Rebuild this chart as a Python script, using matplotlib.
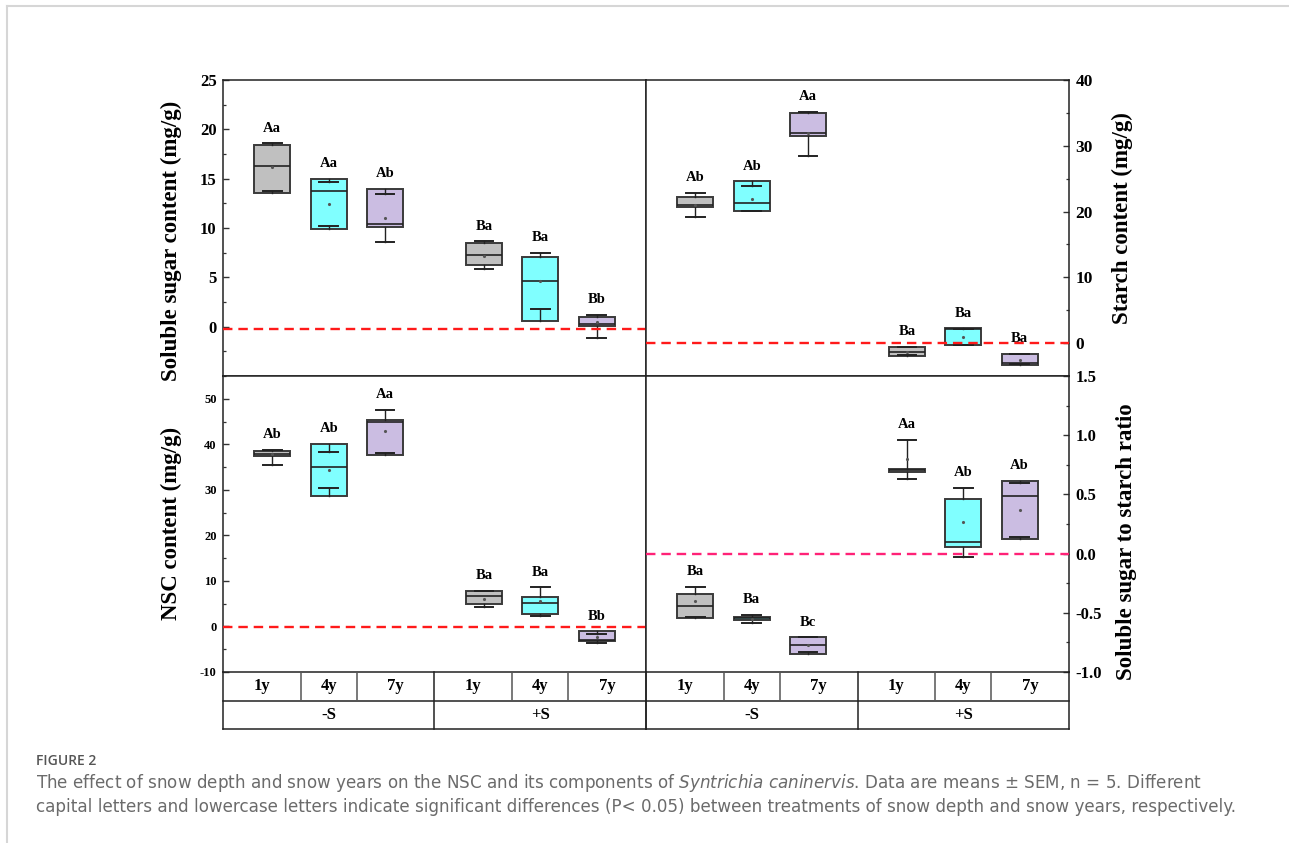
import matplotlib
matplotlib.use("Agg")
import matplotlib.pyplot as plt
from matplotlib.ticker import MultipleLocator

plt.rcParams["font.family"] = ["Liberation Serif", "DejaVu Serif"]
plt.rcParams["axes.unicode_minus"] = False
plt.rcParams["mathtext.fontset"] = "dejavusans"

years = ["1y", "4y", "7y", "1y", "4y", "7y"]
snow = ["-S", "+S"]
fill_colors = ["#c0c0c0", "#80ffff", "#cbbde2"] * 2

# soluble sugar content (mg/g)
sugar_q1 = [13.5, 9.9, 10.07, 6.25, 0.57, 0.07]
sugar_q3 = [18.4, 15.0, 14.0, 8.45, 7.05, 0.95]
sugar_med = [16.3, 13.7, 10.37, 7.3, 4.63, 0.27]
sugar_mean = [16.2, 12.43, 11.0, 7.2, 4.66, 0.5]
sugar_lo = [13.78, 10.2, 8.61, 5.81, 1.79, -1.18]
sugar_hi = [18.58, 14.66, 13.41, 8.65, 7.47, 1.22]
sugar_letters = ["Aa", "Aa", "Ab", "Ba", "Ba", "Bb"]
sugar_ticks = [0, 5, 10, 15, 20, 25]

# starch content (mg/g)
starch_q1 = [20.71, 20.05, 31.52, -2.03, -0.36, -3.3]
starch_q3 = [22.23, 24.57, 35.03, -0.66, 2.23, -1.68]
starch_med = [20.96, 21.37, 31.88, -1.37, 2.08, -3.05]
starch_mean = [21.0, 21.98, 31.9, -1.37, 0.91, -2.54]
starch_lo = [19.14, 20.05, 28.43, -1.88, -0.25, -3.15]
starch_hi = [22.79, 23.86, 35.18, -0.56, 2.18, -1.73]
starch_letters = ["Ab", "Ab", "Aa", "Ba", "Ba", "Ba"]
starch_ticks = [0, 10, 20, 30, 40]

# NSC content (mg/g)
nsc_q1 = [37.4, 28.6, 37.7, 5.0, 2.79, -3.3]
nsc_q3 = [38.6, 40.1, 45.4, 7.8, 6.53, -1.1]
nsc_med = [37.8, 35.1, 45.0, 6.6, 5.21, -2.94]
nsc_mean = [37.9, 34.4, 42.9, 6.0, 5.5, -2.35]
nsc_lo = [35.5, 30.4, 38.2, 4.26, 2.35, -3.6]
nsc_hi = [38.8, 38.4, 47.5, 7.7, 8.59, -1.62]
nsc_letters = ["Ab", "Ab", "Aa", "Ba", "Ba", "Bb"]
nsc_ticks = [-10, 0, 10, 20, 30, 40, 50]

# soluble sugar / starch ratio
ratio_q1 = [-0.544, -0.561, -0.844, 0.686, 0.057, 0.127]
ratio_q3 = [-0.337, -0.533, -0.708, 0.717, 0.459, 0.615]
ratio_med = [-0.445, -0.544, -0.771, 0.703, 0.099, 0.49]
ratio_mean = [-0.40, -0.55, -0.77, 0.796, 0.266, 0.371]
ratio_lo = [-0.533, -0.589, -0.833, 0.629, -0.025, 0.142]
ratio_hi = [-0.278, -0.521, -0.708, 0.958, 0.555, 0.595]
ratio_letters = ["Ba", "Ba", "Bc", "Aa", "Ab", "Ab"]
ratio_ticks = [-1.0, -0.5, 0.0, 0.5, 1.0, 1.5]

positions = [1, 2, 3, 4.75, 5.75, 6.75]
xlim = (0.125, 7.625)

W, H = 1289, 843
fig = plt.figure(figsize=(W / 100, H / 100), dpi=100)


def px_axes(x0, y0, x1, y1):
    return fig.add_axes([x0 / W, 1 - y1 / H, (x1 - x0) / W, (y1 - y0) / H])


def draw_boxes(ax, q1, q3, med, mean, lo, hi, letters):
    stats = []
    for a, b, m, mn, l, h in zip(q1, q3, med, mean, lo, hi):
        stats.append(dict(q1=a, q3=b, med=m, mean=mn, whislo=l, whishi=h, fliers=[]))
    bp = ax.bxp(stats, positions=positions, widths=0.64, capwidths=0.33,
                patch_artist=True, showmeans=True, manage_ticks=False,
                boxprops=dict(edgecolor="#3a3a3a", linewidth=1.4),
                medianprops=dict(color="#222222", linewidth=1.2),
                whiskerprops=dict(color="#222222", linewidth=1.0),
                capprops=dict(color="#222222", linewidth=1.4),
                meanprops=dict(marker=".", markersize=2.5,
                               markerfacecolor="#555555", markeredgecolor="#555555"))
    for patch, c in zip(bp["boxes"], fill_colors):
        patch.set_facecolor(c)
    for x, a, h, lab in zip(positions, q3, hi, letters):
        ax.annotate(lab, (x, max(a, h)), xytext=(0, 8.5), textcoords="offset points",
                    ha="center", va="baseline", fontsize=10.5, fontweight="bold")


def style_axis(ax, ylim, ticks, minor, fmt, labelsize, side):
    ax.set_xlim(xlim)
    ax.set_ylim(ylim)
    ax.set_xticks([])
    ax.set_yticks(ticks, [fmt % t for t in ticks], fontweight="bold")
    ax.yaxis.set_minor_locator(MultipleLocator(minor))
    if side == "right":
        ax.yaxis.tick_right()
        ax.yaxis.set_label_position("right")
    ax.tick_params(axis="y", which="major", direction="in", length=4.5, width=1.0,
                   labelsize=labelsize, pad=4.5, color="#333333")
    ax.tick_params(axis="y", which="minor", direction="in", length=2.5, width=0.9,
                   color="#333333")
    for s in ax.spines.values():
        s.set_linewidth(1.1)
        s.set_color("#222222")


ax_sugar = px_axes(223, 80, 646, 376)
ax_starch = px_axes(646, 80, 1069, 376)
ax_nsc = px_axes(223, 376, 646, 672)
ax_ratio = px_axes(646, 376, 1069, 672)

draw_boxes(ax_sugar, sugar_q1, sugar_q3, sugar_med, sugar_mean, sugar_lo, sugar_hi, sugar_letters)
draw_boxes(ax_starch, starch_q1, starch_q3, starch_med, starch_mean, starch_lo, starch_hi, starch_letters)
draw_boxes(ax_nsc, nsc_q1, nsc_q3, nsc_med, nsc_mean, nsc_lo, nsc_hi, nsc_letters)
draw_boxes(ax_ratio, ratio_q1, ratio_q3, ratio_med, ratio_mean, ratio_lo, ratio_hi, ratio_letters)

style_axis(ax_sugar, (-5, 25), sugar_ticks, 2.5, "%d", 12, "left")
style_axis(ax_starch, (-5, 40), starch_ticks, 5, "%d", 12.5, "right")
style_axis(ax_nsc, (-10, 55), nsc_ticks, 5, "%d", 9, "left")
style_axis(ax_ratio, (-1, 1.5), ratio_ticks, 0.25, "%.1f", 12, "right")

dash = (0, (4, 2.5))
ax_sugar.axhline(-0.2, color="#ff1a1a", ls=dash, lw=1.7, zorder=5)
ax_starch.axhline(0, color="#ff1a1a", ls=dash, lw=1.7, zorder=5)
ax_nsc.axhline(-0.2, color="#ff1a1a", ls=dash, lw=1.7, zorder=5)
ax_ratio.axhline(0, color="#ff2277", ls=dash, lw=1.7, zorder=5)

ylab = dict(fontsize=16.5, fontweight="bold")
ax_sugar.set_ylabel("Soluble sugar content (mg/g)", **ylab)
ax_sugar.yaxis.set_label_coords(-0.097, 0.456)
ax_nsc.set_ylabel("NSC content (mg/g)", **ylab)
ax_nsc.yaxis.set_label_coords(-0.098, 0.502)
ax_starch.set_ylabel("Starch content (mg/g)", rotation=90, **ylab)
ax_starch.yaxis.set_label_coords(1.102, 0.535)
ax_ratio.set_ylabel("Soluble sugar to starch ratio", rotation=90, **ylab)
ax_ratio.yaxis.set_label_coords(1.111, 0.44)

# grouped category table under the bottom panels
edges = [xlim[0]] + [(a + b) / 2 for a, b in zip(positions[:-1], positions[1:])] + [xlim[1]]
for x0, x1 in [(223, 646), (646, 1069)]:
    tab = px_axes(x0, 672, x1, 729)
    tab.set_xlim(xlim)
    tab.set_ylim(0, 2)
    tab.axis("off")
    kw = dict(color="#222222", lw=1.1, clip_on=False)
    for yy in [0, 1]:
        tab.plot(xlim, [yy, yy], **kw)
    for xx in [edges[0], edges[3], edges[-1]]:
        tab.plot([xx, xx], [0, 2], **kw)
    for xx in [edges[1], edges[2], edges[4], edges[5]]:
        tab.plot([xx, xx], [1, 2], color="#555555", lw=1.1, clip_on=False)
    for i, lab in enumerate(years):
        tab.text((edges[i] + edges[i + 1]) / 2, 1.5, lab, ha="center", va="center",
                 fontsize=12, fontweight="bold")
    for g, lab in enumerate(snow):
        tab.text((edges[3 * g] + edges[3 * g + 3]) / 2, 0.5, lab, ha="center",
                 va="center", fontsize=12, fontweight="bold")

# page frame and caption
fig.add_artist(plt.Line2D([7 / W, 1], [1 - 6 / H, 1 - 6 / H], color="#d6d6d6", lw=1.5))
fig.add_artist(plt.Line2D([7 / W, 7 / W], [0, 1 - 6 / H], color="#d6d6d6", lw=1.5))

fig.text(36 / W, 1 - 761 / H, "FIGURE 2", family="Open Sans", fontweight="semibold",
         fontsize=10, color="#555555", va="center")
cap = dict(family="DejaVu Sans", color="#6b6b6b", va="center", fontsize=12.1)
fig.text(36 / W, 1 - 783 / H,
         r"The effect of snow depth and snow years on the NSC and its components of "
         r"$\mathit{Syntrichia\ caninervis}$. Data are means ± SEM, n = 5. Different",
         **cap)
fig.text(36 / W, 1 - 807 / H,
         "capital letters and lowercase letters indicate significant differences (P< 0.05) "
         "between treatments of snow depth and snow years, respectively.",
         **cap)

fig.savefig("out.png", dpi=100)
